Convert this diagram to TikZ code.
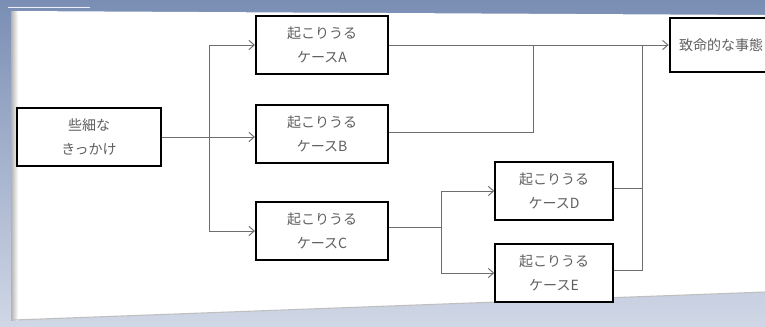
\documentclass[tikz,border=0pt]{standalone}
\usepackage{fontspec}
\newfontfamily\jp{Noto Sans CJK JP}
\usetikzlibrary{arrows.meta}
\definecolor{bgtop}{RGB}{122,142,180}
\definecolor{bgbot}{RGB}{208,215,230}
\definecolor{txt}{RGB}{95,95,95}
\definecolor{ln}{RGB}{110,110,110}
\tikzset{
  x=0.75pt, y=-0.75pt,
  box/.style={draw=black, line width=1.6pt, fill=white, minimum width=99pt, minimum height=44pt,
    align=center, font=\jp\fontsize{10.5}{18.5}\selectfont, text=txt, inner sep=0pt},
  conn/.style={draw=ln, line width=0.7pt},
  arr/.style={conn, -{Straight Barb[length=4pt,width=7pt]}},
}
\begin{document}
\begin{tikzpicture}
\useasboundingbox (0,0) rectangle (765,326);
\clip (0,0) rectangle (765,326);
\shade[top color=bgtop, bottom color=bgbot] (0,0) rectangle (765,326);
% panel
\fill[white] (11,11) -- (765,15) -- (765,292) -- (14,320) -- cycle;
\shade[left color=gray!60, right color=white] (11,11) rectangle (18,320);
\draw[gray!50, line width=0.8pt] (14,320) -- (765,292);
\draw[white!85!bgtop, line width=0.6pt] (8,7) -- (90,7);
% nodes
\node[box, minimum width=108pt] (s) at (89,137) {些細な\\きっかけ};
\node[box] (a) at (322,45) {起こりうる\\ケースA};
\node[box] (b) at (322,134) {起こりうる\\ケースB};
\node[box] (c) at (322,231) {起こりうる\\ケースC};
\node[box, minimum width=88pt] (d) at (554,191) {起こりうる\\ケースD};
\node[box, minimum width=88pt] (e) at (554,273) {起こりうる\\ケースE};
\node[box, minimum width=110pt, text width=100pt, align=left, minimum height=41pt] (f) at (743,45) {\hspace*{2pt}致命的な事態};
% connectors
\coordinate (j1) at (209,137);
\coordinate (j2) at (533,45);
\coordinate (j3) at (441,227);
\coordinate (j4) at (642,45);
\draw[conn] (s.east |- j1) -- (j1);
\draw[conn] (j1 |- a.west) -- (j1 |- c.west);
\draw[arr] (j1 |- a.west) -- (a.west);
\draw[arr] (j1) -- (b.west |- j1);
\draw[arr] (j1 |- c.west) -- (c.west);
\draw[arr] (a.east) -- (f.west |- a.east);
\draw[conn] (b.east |- 0,132) -| (j2);
\draw[conn] (c.east |- j3) -- (j3);
\draw[conn] (j3 |- d.west) -- (j3 |- e.west);
\draw[arr] (j3 |- d.west) -- (d.west);
\draw[arr] (j3 |- e.west) -- (e.west);
\draw[conn] (d.east |- 0,188) -| (j4);
\draw[conn] (e.east |- 0,270) -| (j4 |- 0,188);
\end{tikzpicture}
\end{document}
